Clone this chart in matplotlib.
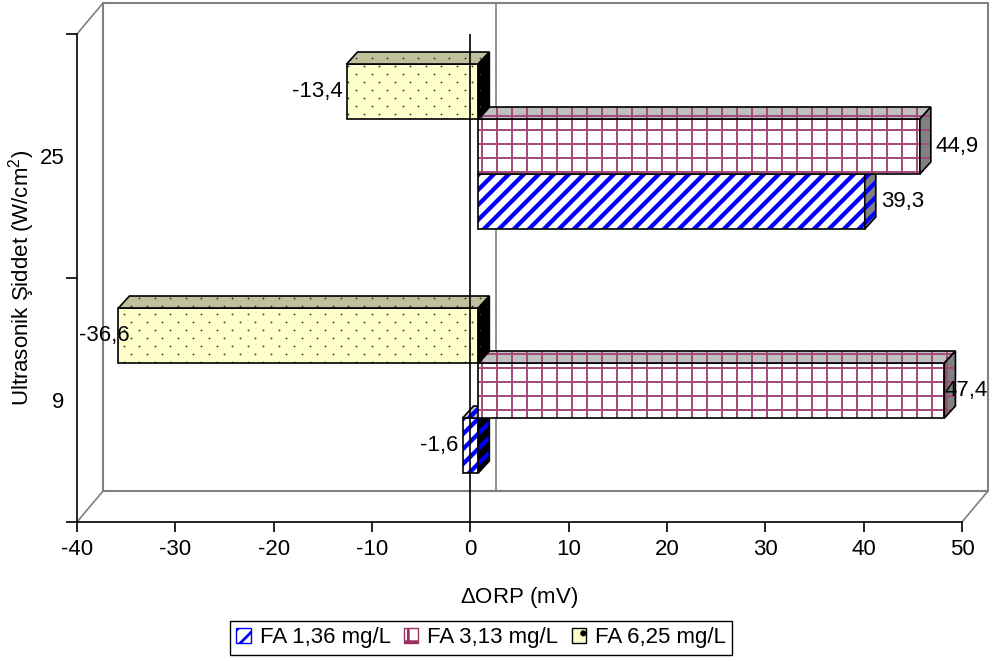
import numpy as np
import matplotlib
import matplotlib.pyplot as plt
import matplotlib.transforms as mtransforms
from matplotlib.patches import Polygon, Patch
from matplotlib.lines import Line2D

# dORP values per ultrasonic intensity
categories = ['9', '25']
series_names = ['FA 1,36 mg/L', 'FA 3,13 mg/L', 'FA 6,25 mg/L']
orp_fa136 = [-1.6, 39.3]
orp_fa313 = [47.4, 44.9]
orp_fa625 = [-36.6, -13.4]
x_ticks = [-40, -30, -20, -10, 0, 10, 20, 30, 40, 50]

plt.rcParams['font.family'] = ['Liberation Sans', 'DejaVu Sans']
plt.rcParams['font.size'] = 16
plt.rcParams['axes.unicode_minus'] = False
plt.rcParams['mathtext.fontset'] = 'custom'
plt.rcParams['mathtext.rm'] = 'Liberation Sans'
plt.rcParams['hatch.linewidth'] = 2.0

W, H = 1007, 661
fig = plt.figure(figsize=(W / 100, H / 100), dpi=100)
left_px, right_px, top_px, bot_px = 77, 962, 34, 522
ax = fig.add_axes([left_px / W, 1 - bot_px / H,
                   (right_px - left_px) / W, (bot_px - top_px) / H])
ax.set_xlim(-40, 50)
ax.set_ylim(0, 2)
sx = (right_px - left_px) / 90.0     # pixels per mV
sy = (bot_px - top_px) / 2.0         # pixels per category
pix = mtransforms.Affine2D().scale(1 / sx, 1 / sy).translate(-40, 0) + ax.transData

# depth of the box (back wall offset) in data units
wall_dx, wall_dy = 26 / sx, 31 / sy
gray = '#808080'

# back wall, floor and side edges
x_lo, x_hi = -40, 50
bx = [x_lo + wall_dx, x_hi + wall_dx, x_hi + wall_dx, x_lo + wall_dx, x_lo + wall_dx]
by = [wall_dy, wall_dy, 2 + wall_dy, 2 + wall_dy, wall_dy]
ax.plot(bx, by, color=gray, lw=1.5, clip_on=False, zorder=1)
ax.plot([x_lo, x_lo + wall_dx], [0, wall_dy], color=gray, lw=1.2, clip_on=False, zorder=1)
ax.plot([x_lo, x_lo + wall_dx], [2, 2 + wall_dy], color=gray, lw=1.2, clip_on=False, zorder=1)
ax.plot([x_hi, x_hi + wall_dx], [0, wall_dy], color=gray, lw=1.2, clip_on=False, zorder=1)
ax.plot([wall_dx, wall_dx], [wall_dy, 2 + wall_dy], color=gray, lw=1.2, clip_on=False, zorder=1)


def to_px(pts):
    p = np.asarray(pts, dtype=float)
    return np.column_stack([(p[:, 0] + 40) * sx, p[:, 1] * sy])


def add_pattern(poly, kind, z):
    # fill pattern drawn in screen pixels, clipped to the face
    bb = to_px(poly.get_xy())
    xmin, xmax = bb[:, 0].min() - 2, bb[:, 0].max() + 2
    ymin, ymax = bb[:, 1].min() - 2, bb[:, 1].max() + 2
    arts = []
    if kind == 'stripes':
        hgt = ymax - ymin
        for c in np.arange(np.floor((xmin - hgt) / 15) * 15, xmax, 15):
            arts.append(Line2D([c, c + hgt], [ymin, ymax], color='#0000ff',
                               lw=3.1, transform=pix, zorder=z))
    elif kind == 'grid':
        for c in np.arange(np.floor(xmin / 15) * 15, xmax, 15):
            arts.append(Line2D([c, c], [ymin, ymax], color='#a34a78',
                               lw=1.4, transform=pix, zorder=z))
        for r in np.arange(np.floor(ymin / 14) * 14, ymax, 14):
            arts.append(Line2D([xmin, xmax], [r, r], color='#a34a78',
                               lw=1.4, transform=pix, zorder=z))
    elif kind == 'dots':
        xs, ys = [], []
        for r in np.arange(np.floor(ymin / 8) * 8, ymax, 8):
            shift = 7.75 if int(round(r / 8)) % 2 else 0
            for c in np.arange(np.floor(xmin / 15.5) * 15.5 + shift, xmax, 15.5):
                xs.append(c)
                ys.append(r)
        arts.append(Line2D(xs, ys, ls='none', marker='o', ms=1.3, mew=0,
                           color='#333333', transform=pix, zorder=z))
    for a in arts:
        a.set_clip_path(poly)
        ax.add_artist(a)


bar_ox, bar_oy = 8 / sx, 9.5 / sy       # bar front plane inside the box
bar_dx, bar_dy = 11 / sx, 12 / sy       # bar depth
half_h = 27.5 / sy                      # half bar thickness

styles = [
    dict(face='white', top='#c0c0c0', pos_side=gray, neg_side='black', pat='stripes'),
    dict(face='white', top='#c0c0c0', pos_side=gray, neg_side='black', pat='grid'),
    dict(face='#ffffcc', top='#c0c09c', pos_side=gray, neg_side='black', pat='dots'),
]
series_vals = [orp_fa136, orp_fa313, orp_fa625]
label_info = []

zc = 3
for ci, cat in enumerate(categories):
    for si, vals in enumerate(series_vals):
        v = vals[ci]
        st = styles[si]
        yc = ci + 0.5 + (si - 1) * (55 / sy) + bar_oy
        xa, xb = bar_ox + min(0, v), bar_ox + max(0, v)
        ya, yb = yc - half_h, yc + half_h
        faces = [
            ([(xa, ya), (xb, ya), (xb, yb), (xa, yb)], st['face']),
            ([(xa, yb), (xb, yb), (xb + bar_dx, yb + bar_dy), (xa + bar_dx, yb + bar_dy)], st['top']),
            ([(xb, ya), (xb + bar_dx, ya + bar_dy), (xb + bar_dx, yb + bar_dy), (xb, yb)],
             st['pos_side'] if v > 0 else st['neg_side']),
        ]
        for pts, col in faces:
            poly = Polygon(pts, closed=True, facecolor=col, edgecolor='none', zorder=zc)
            ax.add_patch(poly)
            add_pattern(poly, st['pat'], zc + 0.1)
            ax.add_patch(Polygon(pts, closed=True, facecolor='none', edgecolor='black',
                                 lw=1.2, zorder=zc + 0.2))
            zc += 0.3
        label_info.append((v, xa, xb, yc))

# zero line in front of the bars
ax.plot([0, 0], [0, 2], color='black', lw=1.2, zorder=50)

# value labels
for v, xa, xb, yc in label_info:
    txt = f'{v:.1f}'.replace('.', ',')
    if v >= 0:
        xl = xb + 16 / sx
        if (xl + 40) * sx + left_px + 40 > 990:
            ax.text((988 - left_px) / sx - 40, yc, txt, ha='right', va='center', zorder=60)
        else:
            ax.text(xl, yc, txt, ha='left', va='center', zorder=60)
    else:
        xr = xa - 4 / sx
        if (xr + 40) * sx + left_px - 50 < 80:
            ax.text((79 - left_px) / sx - 40, yc, txt, ha='left', va='center', zorder=60)
        else:
            ax.text(xr, yc, txt, ha='right', va='center', zorder=60)

# axes, ticks and labels
for s in ['top', 'right']:
    ax.spines[s].set_visible(False)
ax.spines['left'].set_linewidth(1.2)
ax.spines['bottom'].set_linewidth(1.2)
ax.spines['left'].set_zorder(55)
ax.spines['bottom'].set_zorder(55)
ax.patch.set_visible(False)
ax.set_xticks(x_ticks)
ax.set_xticklabels([str(t) for t in x_ticks])
ax.tick_params(axis='x', length=7, width=1.2, pad=5)
ax.set_yticks([0, 1, 2])
ax.set_yticklabels([])
ax.set_yticks([0.5, 1.5], minor=True)
ax.set_yticklabels(categories, minor=True)
ax.tick_params(axis='y', which='major', length=8, width=1.2)
ax.tick_params(axis='y', which='minor', length=0, pad=9)

fig.text(519 / W, 1 - 598 / H, r'$\Delta$ORP (mV)', ha='center', va='center')
fig.text(22 / W, 1 - 278 / H, r'Ultrasonik Şiddet (W/cm$^2$)', rotation=90,
         ha='center', va='center')

handles = [
    Patch(facecolor='white', edgecolor='#0000ff', hatch='//'),
    Patch(facecolor='white', edgecolor='#993366', hatch='+'),
    Patch(facecolor='#ffffcc', edgecolor='black', hatch='.'),
]
leg = fig.legend(handles, series_names, loc='center', bbox_to_anchor=(481 / W, 1 - 638 / H),
                 ncol=3, frameon=True, fancybox=False, edgecolor='black', framealpha=1,
                 handlelength=0.65, handleheight=0.65, handletextpad=0.4,
                 columnspacing=0.6, borderpad=0.3, borderaxespad=0)
leg.get_frame().set_linewidth(1.0)

fig.savefig('out.png', dpi=100)
